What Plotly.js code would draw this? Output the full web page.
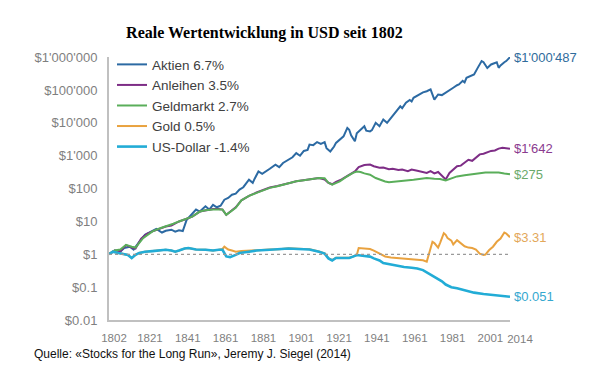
<!DOCTYPE html>
<html>
<head>
<meta charset="utf-8">
<script src="https://cdn.plot.ly/plotly-3.0.1.min.js"></script>
<style>html,body{margin:0;padding:0;background:#fff;}#chart{width:605px;height:376px;}</style>
</head>
<body>
<div id="chart"></div>
<script>
// ---- Data ----
const seriesNames = ["Aktien 6.7%", "Anleihen 3.5%", "Geldmarkt 2.7%", "Gold 0.5%", "US-Dollar -1.4%"];
const endLabels = ["$1'000'487", "$1'642", "$275", "$3.31", "$0.051"];

const aktienYears = [1802,1805,1808,1810,1813,1815,1818,1821,1824,1827,1830,1832,1835,1837,1839,1841,1843,1846,1848,1850,1853,1855,1857,1859,1861,1863,1865,1867,1869,1871,1873,1876,1878,1879,1881,1883,1885,1887,1890,1892,1894,1897,1899,1901,1903,1905,1907,1908,1910,1912,1914,1916,1917,1919,1921,1922,1924,1926,1928,1929,1930,1932,1933,1935,1937,1938,1940,1941,1943,1945,1947,1949,1951,1952,1954,1956,1957,1959,1961,1962,1963,1966,1968,1970,1972,1974,1975,1976,1978,1980,1982,1984,1986,1987,1989,1990,1991,1993,1995,1997,1999,2000,2002,2004,2006,2007,2008,2009,2011,2012,2014];
const aktienValues = [1.0,1.3,1.2,1.55,1.7,1.4,2.4,3.9,4.8,5.9,4.6,5.2,5.6,4.9,5.4,5.1,11,17,23,20,29,23,32,27,30,46,52,65,70,93,110,187,150,200,333,280,330,400,535,450,600,760,900,1200,1000,1400,1500,2180,2100,2600,2300,2600,1700,1350,1900,2460,3000,3900,7000,6200,4200,2750,4800,6300,7900,5800,5500,6000,10000,7900,12600,10000,14000,15800,22000,32000,28000,41000,50000,45000,58000,73000,85000,92000,104000,51000,60000,73000,70000,82000,95000,117000,140000,148000,190000,170000,235000,270000,297000,480000,760000,700000,470000,600000,675000,700000,475000,560000,700000,760000,1000487];

const anleihenYears = [1802,1805,1808,1811,1814,1816,1819,1822,1825,1828,1832,1835,1839,1842,1846,1850,1854,1857,1860,1862,1864,1866,1869,1872,1876,1880,1884,1887,1891,1894,1898,1901,1905,1908,1911,1913,1916,1918,1920,1922,1925,1928,1930,1932,1934,1937,1940,1942,1945,1947,1950,1952,1955,1957,1960,1962,1965,1968,1970,1972,1974,1976,1978,1980,1982,1984,1986,1988,1990,1992,1994,1996,1998,2000,2002,2004,2006,2008,2010,2012,2014];
const anleihenValues = [1.0,1.3,1.25,1.9,1.6,1.5,3.0,4.2,5.0,5.8,7.0,7.5,10,11.5,14,20,22,24,24,23,16,20,27,44,60,76,95,108,120,135,150,168,180,190,200,210,190,150,135,160,190,240,290,333,450,520,540,480,430,440,390,400,370,380,340,380,350,320,300,340,290,320,240,190,300,380,480,500,600,750,700,900,1100,1150,1300,1400,1450,1650,1750,1720,1642];

const geldYears = [1802,1805,1808,1811,1814,1816,1820,1823,1825,1829,1832,1836,1839,1843,1846,1850,1853,1857,1860,1862,1864,1866,1869,1872,1876,1880,1884,1887,1891,1894,1898,1901,1905,1908,1911,1913,1916,1918,1920,1922,1924,1927,1929,1931,1933,1935,1937,1940,1943,1945,1948,1950,1953,1956,1960,1963,1966,1970,1974,1977,1980,1983,1986,1990,1993,1997,2001,2005,2008,2011,2014];
const geldValues = [1.0,1.3,1.4,1.95,1.7,1.6,3.1,4.2,5.0,6.2,7.0,8.5,10,12,14,20,22,23,23,23,16,19,26,44,60,74,92,105,118,132,150,166,178,187,200,210,205,150,132,150,166,220,265,300,330,320,290,265,210,187,165,155,160,166,180,185,195,210,200,195,178,210,235,255,265,290,310,305,310,290,275];

const goldYears = [1802,1804,1807,1810,1812,1814,1816,1818,1821,1825,1830,1832,1835,1837,1839,1842,1844,1848,1853,1857,1860,1862,1863,1865,1867,1869,1872,1876,1880,1887,1892,1897,1902,1908,1913,1916,1918,1920,1922,1924,1926,1929,1931,1933,1934,1937,1940,1942,1945,1948,1951,1955,1960,1965,1968,1970,1971,1972,1973,1974,1976,1977,1979,1980,1981,1983,1984,1986,1987,1989,1990,1992,1994,1996,1998,2000,2001,2003,2005,2007,2009,2011,2012,2014];
const goldValues = [1.0,1.2,1.09,1.0,0.95,0.77,0.96,1.1,1.2,1.25,1.35,1.37,1.3,1.2,1.3,1.5,1.55,1.4,1.37,1.3,1.37,1.45,1.7,1.4,1.3,1.2,1.25,1.3,1.35,1.4,1.42,1.52,1.47,1.42,1.22,1.07,0.77,0.67,0.78,0.77,0.76,0.78,0.86,0.95,1.55,1.5,1.45,1.3,1.05,0.86,0.8,0.77,0.74,0.7,0.66,0.6,1.0,1.6,2.4,2.2,1.6,2.2,4.4,3.9,3.1,2.6,2.0,2.7,2.4,1.9,1.75,1.6,1.55,1.4,1.05,0.95,0.98,1.35,1.7,2.4,3.0,4.6,4.3,3.31];

const usdYears = [1802,1804,1807,1810,1812,1814,1816,1818,1821,1825,1830,1832,1835,1837,1839,1842,1844,1848,1853,1857,1860,1862,1864,1866,1869,1871,1876,1880,1887,1892,1897,1902,1908,1913,1916,1918,1920,1922,1924,1926,1929,1931,1933,1936,1940,1942,1945,1947,1950,1954,1958,1962,1965,1968,1970,1973,1975,1978,1980,1983,1986,1989,1992,1995,2000,2005,2010,2014];
const usdValues = [1.0,1.2,1.09,1.0,0.95,0.77,0.96,1.1,1.2,1.25,1.35,1.37,1.3,1.2,1.3,1.5,1.55,1.4,1.37,1.3,1.37,1.37,0.86,0.82,0.96,1.09,1.2,1.3,1.37,1.4,1.5,1.45,1.4,1.2,1.05,0.75,0.65,0.77,0.76,0.75,0.77,0.85,0.95,0.9,0.85,0.75,0.65,0.54,0.5,0.44,0.41,0.39,0.37,0.33,0.28,0.23,0.19,0.15,0.12,0.1,0.092,0.083,0.074,0.068,0.062,0.057,0.053,0.051];

const refYears = [1802, 2014];
const refValues = [1, 1];

const xTickVals = [1802,1821,1841,1861,1881,1901,1921,1941,1961,1981,2001];
const xEndTick = [2014];
const yTickVals = [0.01,0.1,1,10,100,1000,10000,100000,1000000];
const yTickText = ["$0.01","$0.1","$1","$10","$100","$1'000","$10'000","$100'000","$1'000'000"];

// ---- Styles ----
const colors = ["#2c6aa3", "#7e2d86", "#5aae5a", "#e9a23f", "#22acd6"];
const textColors = ["#2f6c9c", "#8a3b8f", "#6aaa6a", "#e3a85a", "#35a8cf"];
const widths = [2, 2, 2, 2, 2.6];

const xs = [aktienYears, anleihenYears, geldYears, goldYears, usdYears];
const ys = [aktienValues, anleihenValues, geldValues, goldValues, usdValues];

// dotted $1 reference line lives on the overlaid x axis (same range) so that axis is drawn
const traces = [{
  x: refYears, y: refValues, xaxis: 'x2', yaxis: 'y', mode: 'lines', showlegend: false, hoverinfo: 'skip',
  line: {color: '#9a9a9a', width: 1.2, dash: 'dot'}
}];
for (let i = 0; i < seriesNames.length; i++) {
  traces.push({
    x: xs[i], y: ys[i], name: seriesNames[i], mode: 'lines', cliponaxis: false,
    line: {color: colors[i], width: widths[i]}
  });
}

const annotations = [];
for (let i = 0; i < seriesNames.length; i++) {
  const n = ys[i].length;
  annotations.push({
    x: xs[i][n - 1], y: Math.log10(ys[i][n - 1]), xref: 'x', yref: 'y',
    text: endLabels[i], showarrow: false, xanchor: 'left', yanchor: 'middle', xshift: 2,
    font: {family: 'Liberation Sans, Arial, sans-serif', size: 13, color: textColors[i]}
  });
}
annotations.push({
  xref: 'paper', yref: 'paper', x: -0.192, y: -0.129, xanchor: 'left', yanchor: 'middle',
  text: 'Quelle: «Stocks for the Long Run», Jeremy J. Siegel (2014)', showarrow: false,
  font: {family: 'Liberation Sans, Arial, sans-serif', size: 12, color: '#111111'}
});

const xTickFont = {size: 11.5, color: '#7f7f7f'};

const layout = {
  width: 605, height: 376,
  margin: {l: 109, r: 95, t: 57, b: 56},
  paper_bgcolor: '#ffffff', plot_bgcolor: '#ffffff',
  font: {family: 'Liberation Sans, Arial, sans-serif'},
  title: {
    text: '<b>Reale Wertentwicklung in USD seit 1802</b>',
    font: {family: 'Liberation Serif, Times New Roman, serif', size: 16, color: '#000000'},
    x: 0.437, xanchor: 'center', y: 0.915, yanchor: 'middle'
  },
  showlegend: true,
  legend: {
    x: 0.0075, y: 1.03, xanchor: 'left', yanchor: 'top',
    bgcolor: 'rgba(0,0,0,0)',
    font: {size: 13.5, color: '#404040'}
  },
  xaxis: {
    range: [1802, 2014], tickvals: xTickVals, ticktext: xTickVals.map(String), tickangle: 0,
    showgrid: false, zeroline: false, showline: true, linecolor: '#c0c0c0', linewidth: 2,
    ticks: '', tickfont: xTickFont, ticklabelstandoff: 6, ticklabelshift: 5
  },
  xaxis2: {
    overlaying: 'x', anchor: 'y', side: 'bottom',
    range: [1802, 2014], tickvals: xEndTick, ticktext: xEndTick.map(String), tickangle: 0,
    showgrid: false, zeroline: false, showline: false,
    ticks: '', tickfont: xTickFont, ticklabelstandoff: 10, ticklabelshift: 10
  },
  yaxis: {
    type: 'log', range: [-2, 6.005], tickvals: yTickVals, ticktext: yTickText,
    showgrid: false, zeroline: false, showline: true, linecolor: '#c0c0c0', linewidth: 2,
    ticks: '', tickfont: {size: 13, color: '#7f7f7f'}, ticklabelstandoff: 7
  },
  annotations: annotations
};

Plotly.newPlot('chart', traces, layout, {displayModeBar: false, staticPlot: true});
</script>
</body>
</html>
